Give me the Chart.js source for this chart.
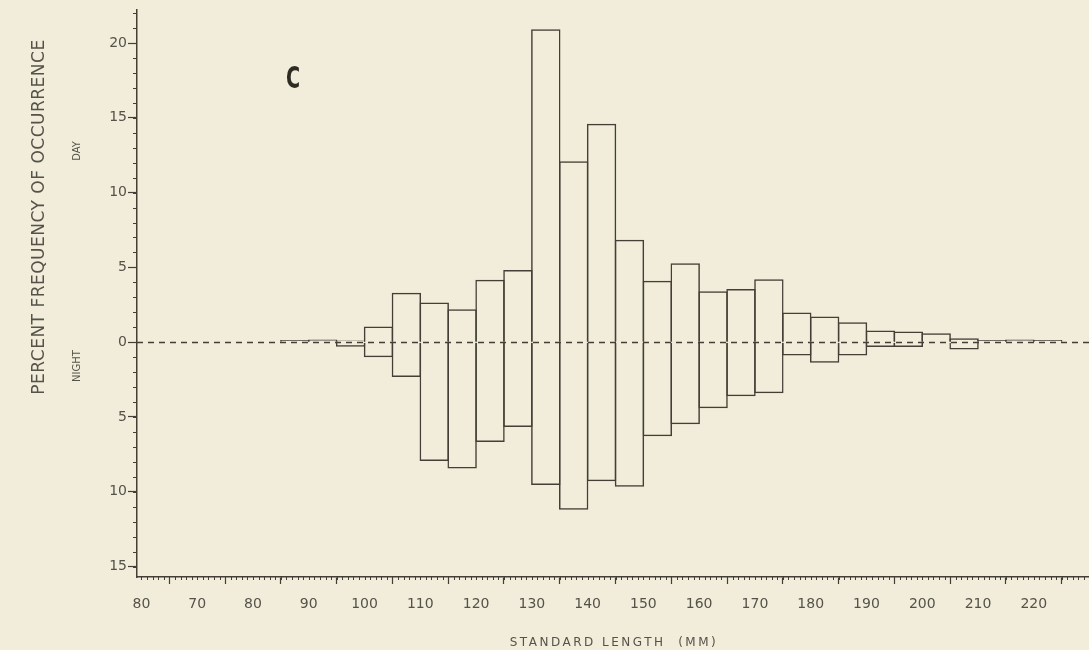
<!DOCTYPE html>
<html>
<head>
<meta charset="utf-8">
<script src="https://cdn.jsdelivr.net/npm/chart.js@4.4.0/dist/chart.umd.min.js"></script>
<style>
  html, body { margin: 0; padding: 0; background: #f1edda; }
</style>
</head>
<body>
<canvas id="histchart" width="1089" height="650"></canvas>
<script>
// size classes (mm), left edge of each 5 mm bin
var binStart = [85, 90, 95, 100, 105, 110, 115, 120, 125, 130, 135, 140, 145, 150,
                155, 160, 165, 170, 175, 180, 185, 190, 195, 200, 205, 210, 215, 220];
// percent frequency, day catches (drawn upward)
var dayPct = [0.15, 0.18, 0.12, 1.05, 3.3, 2.65, 2.2, 4.18, 4.82, 20.93, 12.1, 14.6, 6.85, 4.11,
              5.27, 3.4, 3.56, 4.2, 1.98, 1.71, 1.33, 0.78, 0.71, 0.6, 0.27, 0.15, 0.18, 0.15];
// percent frequency, night catches (drawn downward)
var nightPct = [0, 0, 0.3, 1.0, 2.33, 7.95, 8.44, 6.67, 5.67, 9.55, 11.2, 9.29, 9.67, 6.29,
                5.49, 4.42, 3.62, 3.42, 0.89, 1.37, 0.89, 0.33, 0.33, 0, 0.49, 0, 0, 0];

var xTickValues = [60, 70, 80, 90, 100, 110, 120, 130, 140, 150, 160, 170, 180, 190, 200, 210, 220];
var xTickLabels = ['80', '70', '80', '90', '100', '110', '120', '130', '140', '150',
                   '160', '170', '180', '190', '200', '210', '220'];
var yTickValues = [-15, -10, -5, 0, 5, 10, 15, 20];
var yTickLabels = ['15', '10', '5', '0', '5', '10', '15', '20'];

var ink = '#433f36';
var paper = '#f1edda';
var lineW = 1.5;

var dayData = binStart.map(function(s, i) { return { x: s + 2.5, y: dayPct[i] }; });
var nightData = binStart.map(function(s, i) { return { x: s + 2.5, y: -nightPct[i] }; });

var paperBg = {
  id: 'paperBg',
  beforeDraw: function(chart) {
    var ctx = chart.ctx;
    ctx.save();
    ctx.fillStyle = paper;
    ctx.fillRect(0, 0, chart.width, chart.height);
    ctx.restore();
  }
};

// dashed zero line
var zeroLine = {
  id: 'zeroLine',
  beforeDatasetsDraw: function(chart) {
    var ctx = chart.ctx, a = chart.chartArea;
    var y = Math.round(chart.scales.y.getPixelForValue(0)) + 0.5;
    ctx.save();
    ctx.strokeStyle = ink;
    ctx.lineWidth = 1.3;
    ctx.setLineDash([6, 5]);
    ctx.beginPath();
    ctx.moveTo(a.left, y);
    ctx.lineTo(a.right, y);
    ctx.stroke();
    ctx.restore();
  }
};

// small ticks every unit on both axes
var minorTicks = {
  id: 'minorTicks',
  afterDraw: function(chart) {
    var ctx = chart.ctx, a = chart.chartArea;
    var xs = chart.scales.x, ys = chart.scales.y;
    ctx.save();
    ctx.strokeStyle = ink;
    ctx.lineWidth = 1;
    ctx.beginPath();
    for (var v = 60; v <= 229; v++) {
      var px = Math.round(xs.getPixelForValue(v)) + 0.5;
      ctx.moveTo(px, a.bottom);
      ctx.lineTo(px, a.bottom + 3);
    }
    for (var w = -15; w <= 22; w++) {
      var py = Math.round(ys.getPixelForValue(w)) + 0.5;
      ctx.moveTo(a.left - 4, py);
      ctx.lineTo(a.left, py);
    }
    ctx.stroke();
    ctx.restore();
  }
};

var labels = {
  id: 'labels',
  afterDraw: function(chart) {
    var ctx = chart.ctx;
    ctx.save();
    ctx.fillStyle = '#55524a';
    ctx.textAlign = 'center';
    ctx.textBaseline = 'middle';

    ctx.letterSpacing = '2.5px';
    ctx.font = '12px "DejaVu Sans"';
    ctx.fillText('STANDARD LENGTH  (MM)', 614, 643);

    ctx.letterSpacing = '0.5px';
    ctx.save();
    ctx.translate(40, 217);
    ctx.rotate(-Math.PI / 2);
    ctx.font = '17px "DejaVu Sans"';
    ctx.fillText('PERCENT FREQUENCY OF OCCURRENCE', 0, 0);
    ctx.restore();

    ctx.letterSpacing = '0px';
    ctx.font = '10px "DejaVu Sans"';
    ctx.save();
    ctx.translate(77, 151);
    ctx.rotate(-Math.PI / 2);
    ctx.fillText('DAY', 0, 0);
    ctx.restore();
    ctx.save();
    ctx.translate(77, 366);
    ctx.rotate(-Math.PI / 2);
    ctx.fillText('NIGHT', 0, 0);
    ctx.restore();

    ctx.fillStyle = '#2e2b22';
    ctx.save();
    ctx.translate(293, 80);
    ctx.scale(0.62, 1);
    ctx.font = 'bold 31px "DejaVu Sans"';
    ctx.fillText('C', 0, 0);
    ctx.restore();

    ctx.restore();
  }
};

// bars a touch wider than the bin so neighbouring outlines share one edge
var binPx = 5 * 952 / (229.9 - 59.2);
var barPct = (binPx + lineW) / binPx;

var ctx = document.getElementById('histchart').getContext('2d');
var histChart = new Chart(ctx, {
  type: 'bar',
  data: {
    datasets: [
      {
        label: 'Day',
        data: dayData,
        backgroundColor: 'rgba(0,0,0,0)',
        borderColor: ink,
        borderWidth: lineW,
        borderSkipped: 'start',
        grouped: false,
        barPercentage: barPct,
        categoryPercentage: 1
      },
      {
        label: 'Night',
        data: nightData,
        backgroundColor: 'rgba(0,0,0,0)',
        borderColor: ink,
        borderWidth: lineW,
        borderSkipped: 'start',
        grouped: false,
        barPercentage: barPct,
        categoryPercentage: 1
      }
    ]
  },
  options: {
    responsive: false,
    animation: false,
    layout: { padding: { left: 0, right: 0, top: 8, bottom: 0 } },
    plugins: {
      legend: { display: false },
      tooltip: { enabled: false }
    },
    scales: {
      x: {
        type: 'linear',
        min: 59.2,
        max: 229.9,
        offset: false,
        afterBuildTicks: function(scale) {
          scale.ticks = xTickValues.map(function(v) { return { value: v }; });
        },
        afterFit: function(scale) { scale.height = 73; },
        grid: { drawOnChartArea: false, drawTicks: true, tickLength: 7, tickColor: ink, tickWidth: 1.2 },
        border: { display: true, color: ink, width: 1.5 },
        ticks: {
          autoSkip: false,
          maxRotation: 0,
          padding: 12,
          color: '#55524a',
          font: { family: 'DejaVu Sans', size: 14 },
          callback: function(v) {
            var i = xTickValues.indexOf(v);
            return i < 0 ? '' : xTickLabels[i];
          }
        }
      },
      y: {
        type: 'linear',
        min: -15.7,
        max: 22.25,
        afterBuildTicks: function(scale) {
          scale.ticks = yTickValues.map(function(v) { return { value: v }; });
        },
        afterFit: function(scale) { scale.width = 137; },
        grid: { drawOnChartArea: false, drawTicks: true, tickLength: 9, tickColor: ink, tickWidth: 1.2 },
        border: { display: true, color: ink, width: 1.5 },
        ticks: {
          autoSkip: false,
          padding: 1,
          color: '#55524a',
          font: { family: 'DejaVu Sans', size: 14 },
          callback: function(v) {
            var i = yTickValues.indexOf(v);
            return i < 0 ? '' : yTickLabels[i];
          }
        }
      }
    }
  },
  plugins: [paperBg, zeroLine, minorTicks, labels]
});
</script>
</body>
</html>
